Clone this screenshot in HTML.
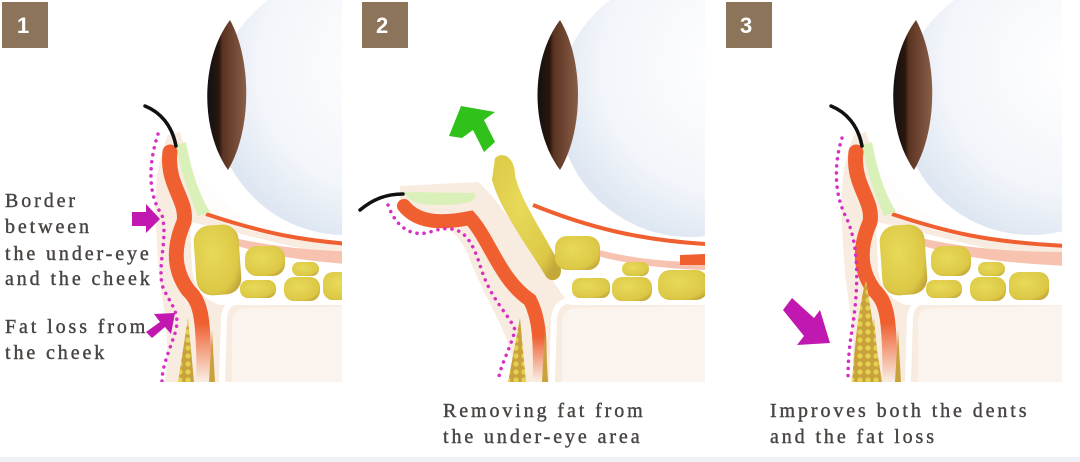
<!DOCTYPE html>
<html><head><meta charset="utf-8"><style>
html,body{margin:0;padding:0;background:#fff;width:1080px;height:462px;overflow:hidden}
svg{display:block}
text{font-family:"Liberation Serif",serif;fill:#484442;font-size:20px;letter-spacing:2.9px;stroke:#484442;stroke-width:0.4px}
.b{fill:#fff;stroke:none;font-family:"Liberation Sans",sans-serif;font-size:22px;font-weight:bold;letter-spacing:0}
</style></head><body>
<svg width="1080" height="462" viewBox="0 0 1080 462" xmlns="http://www.w3.org/2000/svg">
<defs>
<radialGradient id="eye" cx="0.65" cy="0.35" r="0.7"><stop offset="0" stop-color="#ffffff"/><stop offset="0.7" stop-color="#f2f5fa"/><stop offset="1" stop-color="#dde6f1"/></radialGradient>
<linearGradient id="iris" x1="0" x2="1"><stop offset="0" stop-color="#111"/><stop offset="0.3" stop-color="#2a160e"/><stop offset="0.4" stop-color="#5a3322"/><stop offset="1" stop-color="#8a5f48"/></linearGradient>
<radialGradient id="fat" cx="0.4" cy="0.4" r="0.7"><stop offset="0" stop-color="#e8da5a"/><stop offset="0.8" stop-color="#dcc845"/><stop offset="1" stop-color="#c4a83a"/></radialGradient>
<linearGradient id="orfade" x1="0" y1="0" x2="0" y2="1"><stop offset="0.75" stop-color="#ef5f30"/><stop offset="1" stop-color="#ef5f30" stop-opacity="0"/></linearGradient>
<pattern id="dots" width="8" height="8" patternUnits="userSpaceOnUse"><rect width="8" height="8" fill="#c9a23c"/><circle cx="4" cy="4" r="2.6" fill="#e4d150"/></pattern>
<clipPath id="c1"><rect x="0" y="0" width="342" height="382"/></clipPath>
<clipPath id="c2"><rect x="350" y="0" width="355" height="382"/></clipPath>
<clipPath id="c3"><rect x="720" y="0" width="342" height="382"/></clipPath>
<g id="anat">
 <path d="M168,135 L180,132 C195,185 230,220 300,238 L380,242 L380,382 L165,382 C172,330 160,300 158,260 C156,220 150,180 168,135Z" fill="#f8ebdf"/>
 <path d="M188,140 C200,185 240,222 380,238 L380,248 C250,240 205,220 192,195 Z" fill="#fff" opacity="0.9"/>
 <path d="M222,382 L224,318 C225,305 232,300 245,300 L380,298" fill="none" stroke="#fff" stroke-width="6"/>
 <path d="M232,382 L232,322 C232,312 238,308 250,308 L380,306 L380,382Z" fill="#fbf4ee"/>
 <path d="M190,222 C240,232 300,252 380,262 L380,305 L220,305 C205,300 195,290 192,270Z" fill="#fff"/>
 <path d="M225,236 C270,246 310,252 380,252 L380,266 C300,262 260,254 225,242Z" fill="#f7c2b0"/>
 <path d="M206,214 C260,232 300,242 380,246" fill="none" stroke="#ef5f30" stroke-width="4"/>
 <path d="M176,145 L186,142 C192,175 200,195 210,212 L198,216 C192,200 182,180 176,145Z" fill="#d9f1b8"/>
 <path d="M170,152 C166,185 188,200 184,222 C174,245 172,268 188,290 C200,302 204,312 204,380" fill="none" stroke="url(#orfade)" stroke-width="15" stroke-linecap="round"/>
 <rect x="195" y="225" width="45" height="70" rx="16" fill="url(#fat)" transform="rotate(-4 217 260)"/>
 <rect x="245" y="246" width="40" height="30" rx="12" fill="url(#fat)"/>
 <rect x="240" y="280" width="36" height="18" rx="8" fill="url(#fat)"/>
 <rect x="292" y="262" width="27" height="14" rx="7" fill="url(#fat)"/>
 <rect x="284" y="277" width="36" height="24" rx="10" fill="url(#fat)"/>
 <rect x="323" y="272" width="40" height="28" rx="10" fill="url(#fat)"/>
 <path d="M188,318 L194,382 L178,382Z" fill="url(#dots)"/>
 <path d="M212,330 L215,382 L209,382Z" fill="#c9a23c"/>
 <circle cx="345" cy="105" r="130" fill="url(#eye)"/>
 <path d="M230,20 C200,60 200,130 228,170 C252,130 252,60 230,20Z" fill="url(#iris)"/>
 <path d="M145,106 C160,112 172,125 176,146" fill="none" stroke="#111" stroke-width="3.5" stroke-linecap="round"/>
</g>
</defs>

<g clip-path="url(#c1)"><use href="#anat"/>
<path d="M158,134 C148,165 148,195 162,215 C168,240 158,260 162,285 C170,305 180,310 176,330 C170,350 162,365 162,382" fill="none" stroke="#d62fc4" stroke-width="3.5" stroke-dasharray="0.1 7" stroke-linecap="round"/>
</g>
<rect x="2" y="2" width="46" height="46" fill="#8b7459"/><text x="17" y="33" class="b">1</text>
<text x="5" y="207">Border</text>
<text x="5" y="233">between</text>
<text x="5" y="260">the under-eye</text>
<text x="5" y="285">and the cheek</text>
<text x="5" y="333">Fat loss from</text>
<text x="5" y="359">the cheek</text>
<path d="M132,212 L146,212 L146,204 L160,219 L146,233 L146,226 L132,226Z" fill="#c018b0"/>
<path d="M146,332 L160,322 L154,314 L175,313 L171,334 L165,327 L152,338Z" fill="#c018b0"/>

<g clip-path="url(#c2)">
 <path d="M400,186 L478,182 C500,200 520,240 545,260 L705,262 L705,382 L515,382 C515,340 490,310 470,260 C460,230 440,222 420,220 L400,212Z" fill="#f8ebdf"/>
 <path d="M522,185 C540,210 600,235 705,250 L705,262 L540,260Z" fill="#fff"/>
 <path d="M552,382 L554,318 C556,305 562,300 575,300 L705,298" fill="none" stroke="#fff" stroke-width="6"/>
 <path d="M562,382 L562,322 C562,312 568,308 580,308 L705,306 L705,382Z" fill="#fbf4ee"/>
 <path d="M548,232 C600,250 650,262 705,262 L705,305 L570,305 L545,270Z" fill="#fff"/>
 <path d="M565,240 C610,255 650,262 705,262 L705,270 C650,268 610,262 565,246Z" fill="#f7c2b0"/>
 <path d="M533,205 C590,228 640,240 705,244" fill="none" stroke="#ef5f30" stroke-width="4"/>
 <path d="M680,255 L705,254 L705,265 L680,265Z" fill="#ef5f30"/>
 <path d="M404,192 L475,193 C478,200 470,205 440,205 C420,205 408,202 404,192Z" fill="#d9f1b8"/>
 <path d="M404,206 C420,226 450,222 470,218 C490,240 500,280 530,300 C540,320 540,340 540,380" fill="none" stroke="url(#orfade)" stroke-width="14" stroke-linecap="round"/>
 <path d="M495,158 C505,150 515,160 515,175 C520,200 545,235 560,265 C565,280 550,285 545,275 C530,250 500,210 492,180 Z" fill="url(#fat)"/>
 <rect x="555" y="236" width="45" height="34" rx="12" fill="url(#fat)"/>
 <rect x="572" y="278" width="38" height="20" rx="8" fill="url(#fat)"/>
 <rect x="622" y="262" width="27" height="14" rx="7" fill="url(#fat)"/>
 <rect x="612" y="277" width="40" height="24" rx="10" fill="url(#fat)"/>
 <rect x="658" y="270" width="50" height="30" rx="12" fill="url(#fat)"/>
 <path d="M520,318 L526,382 L508,382Z" fill="url(#dots)"/>
 <path d="M545,330 L548,382 L542,382Z" fill="#c9a23c"/>
 <circle cx="690" cy="105" r="132" fill="url(#eye)"/>
 <path d="M560,20 C530,60 530,130 560,170 C584,130 584,60 560,20Z" fill="url(#iris)"/>
 <path d="M360,210 C372,200 385,194 403,194" fill="none" stroke="#111" stroke-width="3.5" stroke-linecap="round"/>
 <path d="M388,205 C395,225 410,238 430,232 C460,222 470,235 480,265 C490,300 510,315 515,330 C510,350 500,365 498,382" fill="none" stroke="#d62fc4" stroke-width="3.5" stroke-dasharray="0.1 7" stroke-linecap="round"/>
</g>
<path d="M449,136 L461,106 L495,112 L484,120 L495,142 L484,152 L473,130 L462,138Z" fill="#30c21a"/>
<rect x="362" y="2" width="46" height="46" fill="#8b7459"/><text x="376" y="33" class="b">2</text>
<text x="443" y="417">Removing fat from</text>
<text x="443" y="443">the under-eye area</text>

<g clip-path="url(#c3)">
 <g transform="translate(686,0)"><use href="#anat"/></g>
 <path d="M866,280 L882,382 L852,382 C855,340 860,300 866,280Z" fill="url(#dots)"/>
 <path d="M842,138 C835,160 833,190 845,215 C858,240 860,280 852,330 C848,355 848,370 848,382" fill="none" stroke="#d62fc4" stroke-width="3.5" stroke-dasharray="0.1 7" stroke-linecap="round"/>
</g>
<path d="M783,310 L792,298 L814,318 L820,310 L830,343 L797,345 L804,336 Z" fill="#c018b0"/>
<rect x="726" y="2" width="46" height="46" fill="#8b7459"/><text x="740" y="33" class="b">3</text>
<text x="770" y="417">Improves both the dents</text>
<text x="770" y="443">and the fat loss</text>

<rect x="0" y="457" width="1080" height="5" fill="#eef2f6"/>
</svg>
</body></html>
